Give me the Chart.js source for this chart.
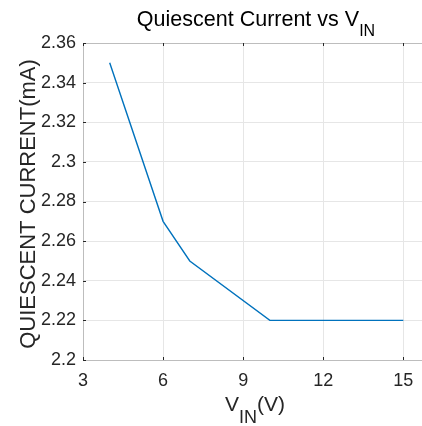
<!DOCTYPE html>
<html>
<head>
<meta charset="utf-8">
<script src="https://cdn.jsdelivr.net/npm/chart.js@4"></script>
<style>
  html, body { margin: 0; padding: 0; background: #fff; }
  #wrap { width: 422px; height: 426px; }
</style>
</head>
<body>
<div id="wrap"><canvas id="qChart" width="422" height="426"></canvas></div>
<script>
const vin = [4, 6, 7, 10, 15];
const current = [2.35, 2.27, 2.25, 2.22, 2.22];
const xTicks = [3, 6, 9, 12, 15];
const yTicks = [2.2, 2.22, 2.24, 2.26, 2.28, 2.3, 2.32, 2.34, 2.36];

const FONT = "'Liberation Sans', Arial, Helvetica, sans-serif";
const INK = "#262626";
const AXIS = "#bdbdbd";

// draws "main + subscript + rest" pieces centred on x
function drawParts(ctx, parts, x, y) {
  let total = 0;
  parts.forEach(p => {
    ctx.font = p.size + "px " + FONT;
    p.w = ctx.measureText(p.text).width;
    total += p.w;
  });
  let cx = x - total / 2;
  parts.forEach(p => {
    ctx.font = p.size + "px " + FONT;
    ctx.fillText(p.text, cx, y + (p.dy || 0));
    cx += p.w;
  });
}

const labelPlugin = {
  id: "labels",
  afterDraw(chart) {
    const ctx = chart.ctx;
    const area = chart.chartArea;
    const xs = chart.scales.x;
    const ys = chart.scales.y;
    ctx.save();

    // top border
    ctx.strokeStyle = AXIS;
    ctx.lineWidth = 1;
    ctx.beginPath();
    ctx.moveTo(area.left, area.top + 0.5);
    ctx.lineTo(area.right, area.top + 0.5);
    ctx.stroke();

    // inward tick marks
    ctx.strokeStyle = INK;
    ctx.beginPath();
    xTicks.forEach(v => {
      const px = Math.round(xs.getPixelForValue(v)) + 0.5;
      ctx.moveTo(px, area.bottom); ctx.lineTo(px, area.bottom - 3);
      ctx.moveTo(px, area.top); ctx.lineTo(px, area.top + 3);
    });
    yTicks.forEach(v => {
      const py = Math.round(ys.getPixelForValue(v)) + 0.5;
      ctx.moveTo(area.left, py); ctx.lineTo(area.left + 3, py);
    });
    ctx.stroke();

    ctx.fillStyle = "#000";
    ctx.textAlign = "left";
    ctx.textBaseline = "alphabetic";
    drawParts(ctx, [
      { text: "Quiescent Current vs V", size: 21.5 },
      { text: "IN", size: 16, dy: 10 }
    ], 256, 26);

    ctx.fillStyle = INK;
    drawParts(ctx, [
      { text: "V", size: 21 },
      { text: "IN", size: 18, dy: 12 },
      { text: "(V)", size: 21 }
    ], 255, 411);

    ctx.translate(35, 204);
    ctx.rotate(-Math.PI / 2);
    ctx.textAlign = "center";
    ctx.font = "22px " + FONT;
    ctx.fillText("QUIESCENT CURRENT(mA)", 0, 0);
    ctx.restore();
  }
};

new Chart(document.getElementById("qChart"), {
  type: "scatter",
  data: {
    datasets: [{
      data: vin.map((v, i) => ({ x: v, y: current[i] })),
      showLine: true,
      borderColor: "#0072BD",
      borderWidth: 1.4,
      pointRadius: 0,
      tension: 0
    }]
  },
  options: {
    responsive: false,
    animation: false,
    devicePixelRatio: 1,
    layout: { padding: { top: 43, right: 0, left: 0, bottom: 0 } },
    plugins: { legend: { display: false }, tooltip: { enabled: false }, title: { display: false } },
    scales: {
      x: {
        type: "linear",
        min: 3,
        max: 15.7,
        afterBuildTicks: s => { s.ticks = xTicks.map(v => ({ value: v })); },
        afterFit: s => { s.height = 66; s.paddingLeft = 0; s.paddingRight = 0; },
        grid: { color: "#e6e6e6", drawTicks: false },
        border: { color: AXIS },
        ticks: { color: INK, font: { family: FONT, size: 18 }, padding: 10, maxRotation: 0, callback: v => String(v) }
      },
      y: {
        type: "linear",
        min: 2.2,
        max: 2.36,
        afterBuildTicks: s => { s.ticks = yTicks.map(v => ({ value: v })); },
        afterFit: s => { s.width = 83; },
        grid: { color: "#e6e6e6", drawTicks: false },
        border: { color: AXIS },
        ticks: { color: INK, font: { family: FONT, size: 18 }, padding: 7, callback: v => String(v) }
      }
    }
  },
  plugins: [labelPlugin]
});
</script>
</body>
</html>
